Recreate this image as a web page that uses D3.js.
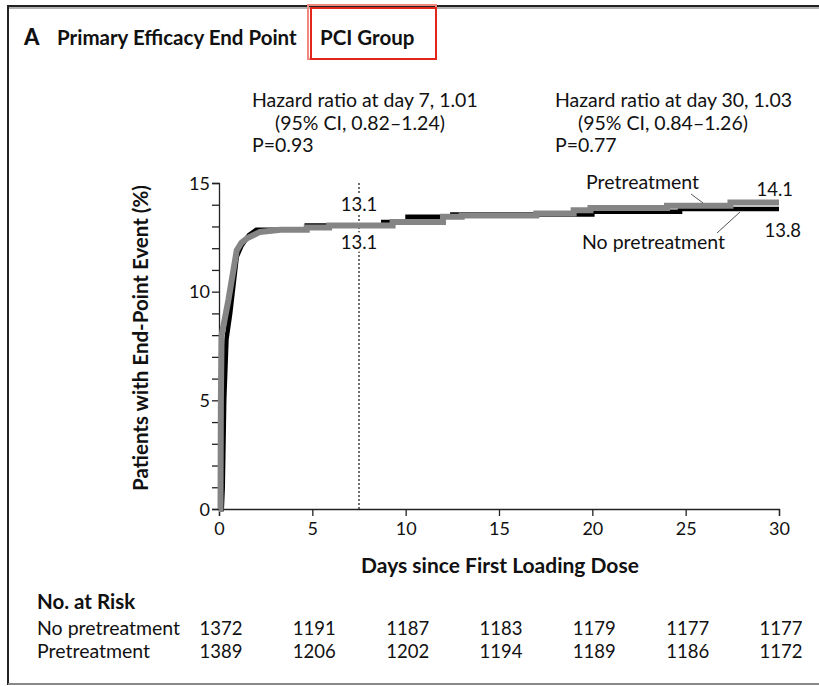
<!DOCTYPE html>
<html>
<head>
<meta charset="utf-8">
<script src="https://cdn.jsdelivr.net/npm/d3@7"></script>
<style>
  html, body { margin: 0; padding: 0; background: #fff; }
  svg { display: block; }
  text { font-family: Lato, "Open Sans", sans-serif; fill: #111; }
</style>
</head>
<body>
<svg id="chart" width="819" height="686"></svg>
<script>
// Cumulative incidence of the primary efficacy end point, PCI group.
// Curve vertices (day, %); a repeated day marks a vertical step.
const noPretreatDays = [0, 0.15, 0.2, 0.28, 0.4, 0.6, 0.95, 1.2, 1.6, 2.0, 4.7, 4.7, 8.8, 8.8, 10.1, 10.1, 12.5, 12.5, 20.0, 20.0, 24.7, 24.7, 30];
const noPretreatPct  = [0, 0, 1.0, 5.0, 7.8, 9.0, 11.6, 12.1, 12.6, 12.85, 12.85, 13.05, 13.05, 13.2, 13.2, 13.45, 13.45, 13.55, 13.55, 13.68, 13.68, 13.8, 13.8];

const pretreatDays = [0, 0.08, 0.1, 0.14, 0.5, 0.95, 1.2, 1.5, 2.2, 3.3, 4.7, 4.7, 5.9, 5.9, 9.3, 9.3, 12.0, 12.0, 13.0, 13.0, 17.0, 17.0, 19.0, 19.0, 19.9, 19.9, 24.0, 24.0, 27.4, 27.4, 30];
const pretreatPct  = [0, 0, 5.0, 8.0, 9.6, 11.9, 12.25, 12.45, 12.75, 12.85, 12.85, 12.95, 12.95, 13.05, 13.05, 13.2, 13.2, 13.45, 13.45, 13.5, 13.5, 13.6, 13.6, 13.75, 13.75, 13.85, 13.85, 13.95, 13.95, 14.1, 14.1];

const xTicks = [0, 5, 10, 15, 20, 25, 30];
const yTicks = [0, 1, 2, 3, 4, 5, 6, 7, 8, 9, 10, 11, 12, 13, 14, 15];
const yLabels = [0, 5, 10, 15];

const landmarkDay = 7.5;
const landmarkValueNo = 13.1;
const landmarkValuePre = 13.1;
const endValuePre = 14.1;
const endValueNo = 13.8;

const riskRows = ["No pretreatment", "Pretreatment"];
const riskNoPretreat = [1372, 1191, 1187, 1183, 1179, 1177, 1177];
const riskPretreat   = [1389, 1206, 1202, 1194, 1189, 1186, 1172];

const svg = d3.select("#chart");

// outer panel frame
svg.append("line").attr("x1", 7).attr("x2", 819).attr("y1", 6).attr("y2", 6).attr("stroke", "#222").attr("stroke-width", 2);
svg.append("line").attr("x1", 7).attr("x2", 819).attr("y1", 8).attr("y2", 8).attr("stroke", "#999").attr("stroke-width", 1.5);
svg.append("line").attr("x1", 8).attr("x2", 8).attr("y1", 5).attr("y2", 685).attr("stroke", "#222").attr("stroke-width", 2);
svg.append("line").attr("x1", 8).attr("x2", 819).attr("y1", 684).attr("y2", 684).attr("stroke", "#888").attr("stroke-width", 2);

// title
svg.append("text").attr("x", 24).attr("y", 45).attr("font-size", 22).attr("font-weight", 900).text("A");
svg.append("text").attr("x", 57).attr("y", 45).attr("font-size", 20.5).attr("font-weight", 700).text("Primary Efficacy End Point");
svg.append("text").attr("x", 320).attr("y", 45).attr("font-size", 20.5).attr("font-weight", 700).text("PCI Group");

// highlight box around the group name
svg.append("rect").attr("x", 308).attr("y", 5).attr("width", 128).attr("height", 54)
  .attr("fill", "none").attr("stroke", "#f08a80").attr("stroke-width", 2);
svg.append("rect").attr("x", 311).attr("y", 8).attr("width", 125).attr("height", 51)
  .attr("fill", "none").attr("stroke", "#e3261c").attr("stroke-width", 2);

// scales
const x = d3.scaleLinear().domain([0, 30]).range([219, 779]);
const y = d3.scaleLinear().domain([0, 15]).range([509, 183]);

const numFont = "Lato, 'Open Sans', sans-serif";

// axes
const xAxis = svg.append("g").attr("transform", `translate(0,${y(0)})`)
  .call(d3.axisBottom(x).tickValues(xTicks).tickSize(7).tickPadding(6));
const yAxis = svg.append("g").attr("transform", `translate(${x(0)},0)`)
  .call(d3.axisLeft(y).tickValues(yTicks).tickSize(7).tickPadding(2)
    .tickFormat(d => yLabels.includes(d) ? d : ""));
[xAxis, yAxis].forEach(g => {
  g.select(".domain").attr("stroke", "#222").attr("stroke-width", 1.3);
  g.selectAll(".tick line").attr("stroke", "#222").attr("stroke-width", 1.3);
  g.selectAll(".tick text").attr("font-family", numFont)
    .attr("font-size", 18).attr("fill", "#111");
});
xAxis.selectAll(".tick text").attr("dy", "0.72em");
yAxis.selectAll(".tick text").attr("dy", "0.35em");

// axis titles
svg.append("text").attr("transform", `translate(148,${(183 + 509) / 2 - 8}) rotate(-90)`)
  .attr("text-anchor", "middle").attr("font-size", 20.5).attr("font-weight", 700)
  .text("Patients with End-Point Event (%)");
svg.append("text").attr("x", 500).attr("y", 573).attr("text-anchor", "middle")
  .attr("font-size", 21).attr("font-weight", 700).text("Days since First Loading Dose");

// landmark line
svg.append("line").attr("x1", x(landmarkDay)).attr("x2", x(landmarkDay)).attr("y1", y(15)).attr("y2", y(0))
  .attr("stroke", "#111").attr("stroke-width", 1.2).attr("stroke-dasharray", "2,2");

// cumulative curves
const line = d3.line().x(d => x(d[0])).y(d => y(d[1]));
const noData = noPretreatDays.map((d, i) => [d, noPretreatPct[i]]);
const preData = pretreatDays.map((d, i) => [d, pretreatPct[i]]);
svg.append("path").datum(noData).attr("d", line).attr("fill", "none")
  .attr("stroke", "#000").attr("stroke-width", 4.5);
svg.append("path").datum(preData).attr("d", line).attr("fill", "none")
  .attr("stroke", "#858585").attr("stroke-width", 6);

// landmark value labels with white halo so the dashed line breaks around them
function haloText(tx, ty, str) {
  svg.append("text").attr("x", tx).attr("y", ty).attr("text-anchor", "middle")
    .attr("font-family", numFont).attr("font-size", 18.5)
    .attr("stroke", "#fff").attr("stroke-width", 6).attr("paint-order", "stroke").text(str);
}
haloText(x(landmarkDay), 211, landmarkValuePre.toFixed(1));
haloText(x(landmarkDay), 249, landmarkValueNo.toFixed(1));

// end-of-follow-up labels
svg.append("text").attr("x", 793).attr("y", 196).attr("text-anchor", "end")
  .attr("font-family", numFont).attr("font-size", 18.5).text(endValuePre.toFixed(1));
svg.append("text").attr("x", 801).attr("y", 237).attr("text-anchor", "end")
  .attr("font-family", numFont).attr("font-size", 18.5).text(endValueNo.toFixed(1));

// series labels with leaders
svg.append("text").attr("x", 586).attr("y", 189).attr("font-size", 19.5).text("Pretreatment");
svg.append("line").attr("x1", 691).attr("y1", 194).attr("x2", 703).attr("y2", 203).attr("stroke", "#555").attr("stroke-width", 1);
svg.append("text").attr("x", 582).attr("y", 249).attr("font-size", 19.5).text("No pretreatment");
svg.append("line").attr("x1", 717).attr("y1", 233).attr("x2", 740).attr("y2", 212).attr("stroke", "#555").attr("stroke-width", 1);

// hazard ratio annotations
const hr = [
  { x: 252, lines: ["Hazard ratio at day 7, 1.01", "(95% CI, 0.82–1.24)", "P=0.93"] },
  { x: 555, lines: ["Hazard ratio at day 30, 1.03", "(95% CI, 0.84–1.26)", "P=0.77"] }
];
hr.forEach(b => {
  svg.append("text").attr("x", b.x).attr("y", 107).attr("font-size", 19.5).text(b.lines[0]);
  svg.append("text").attr("x", b.x + 23).attr("y", 130).attr("font-size", 19.5).text(b.lines[1]);
  svg.append("text").attr("x", b.x).attr("y", 152).attr("font-size", 19.5).text(b.lines[2]);
});

// number at risk table
svg.append("text").attr("x", 37).attr("y", 609).attr("font-size", 20.5).attr("font-weight", 700).text("No. at Risk");
[riskNoPretreat, riskPretreat].forEach((row, r) => {
  const ty = 635 + r * 23;
  svg.append("text").attr("x", 37).attr("y", ty).attr("font-size", 19.5).text(riskRows[r]);
  svg.selectAll(null).data(row).enter().append("text")
    .attr("x", (d, i) => x(xTicks[i]) + 2).attr("y", ty).attr("text-anchor", "middle")
    .attr("font-family", numFont).attr("font-size", 18.5).text(d => d);
});
</script>
</body>
</html>
